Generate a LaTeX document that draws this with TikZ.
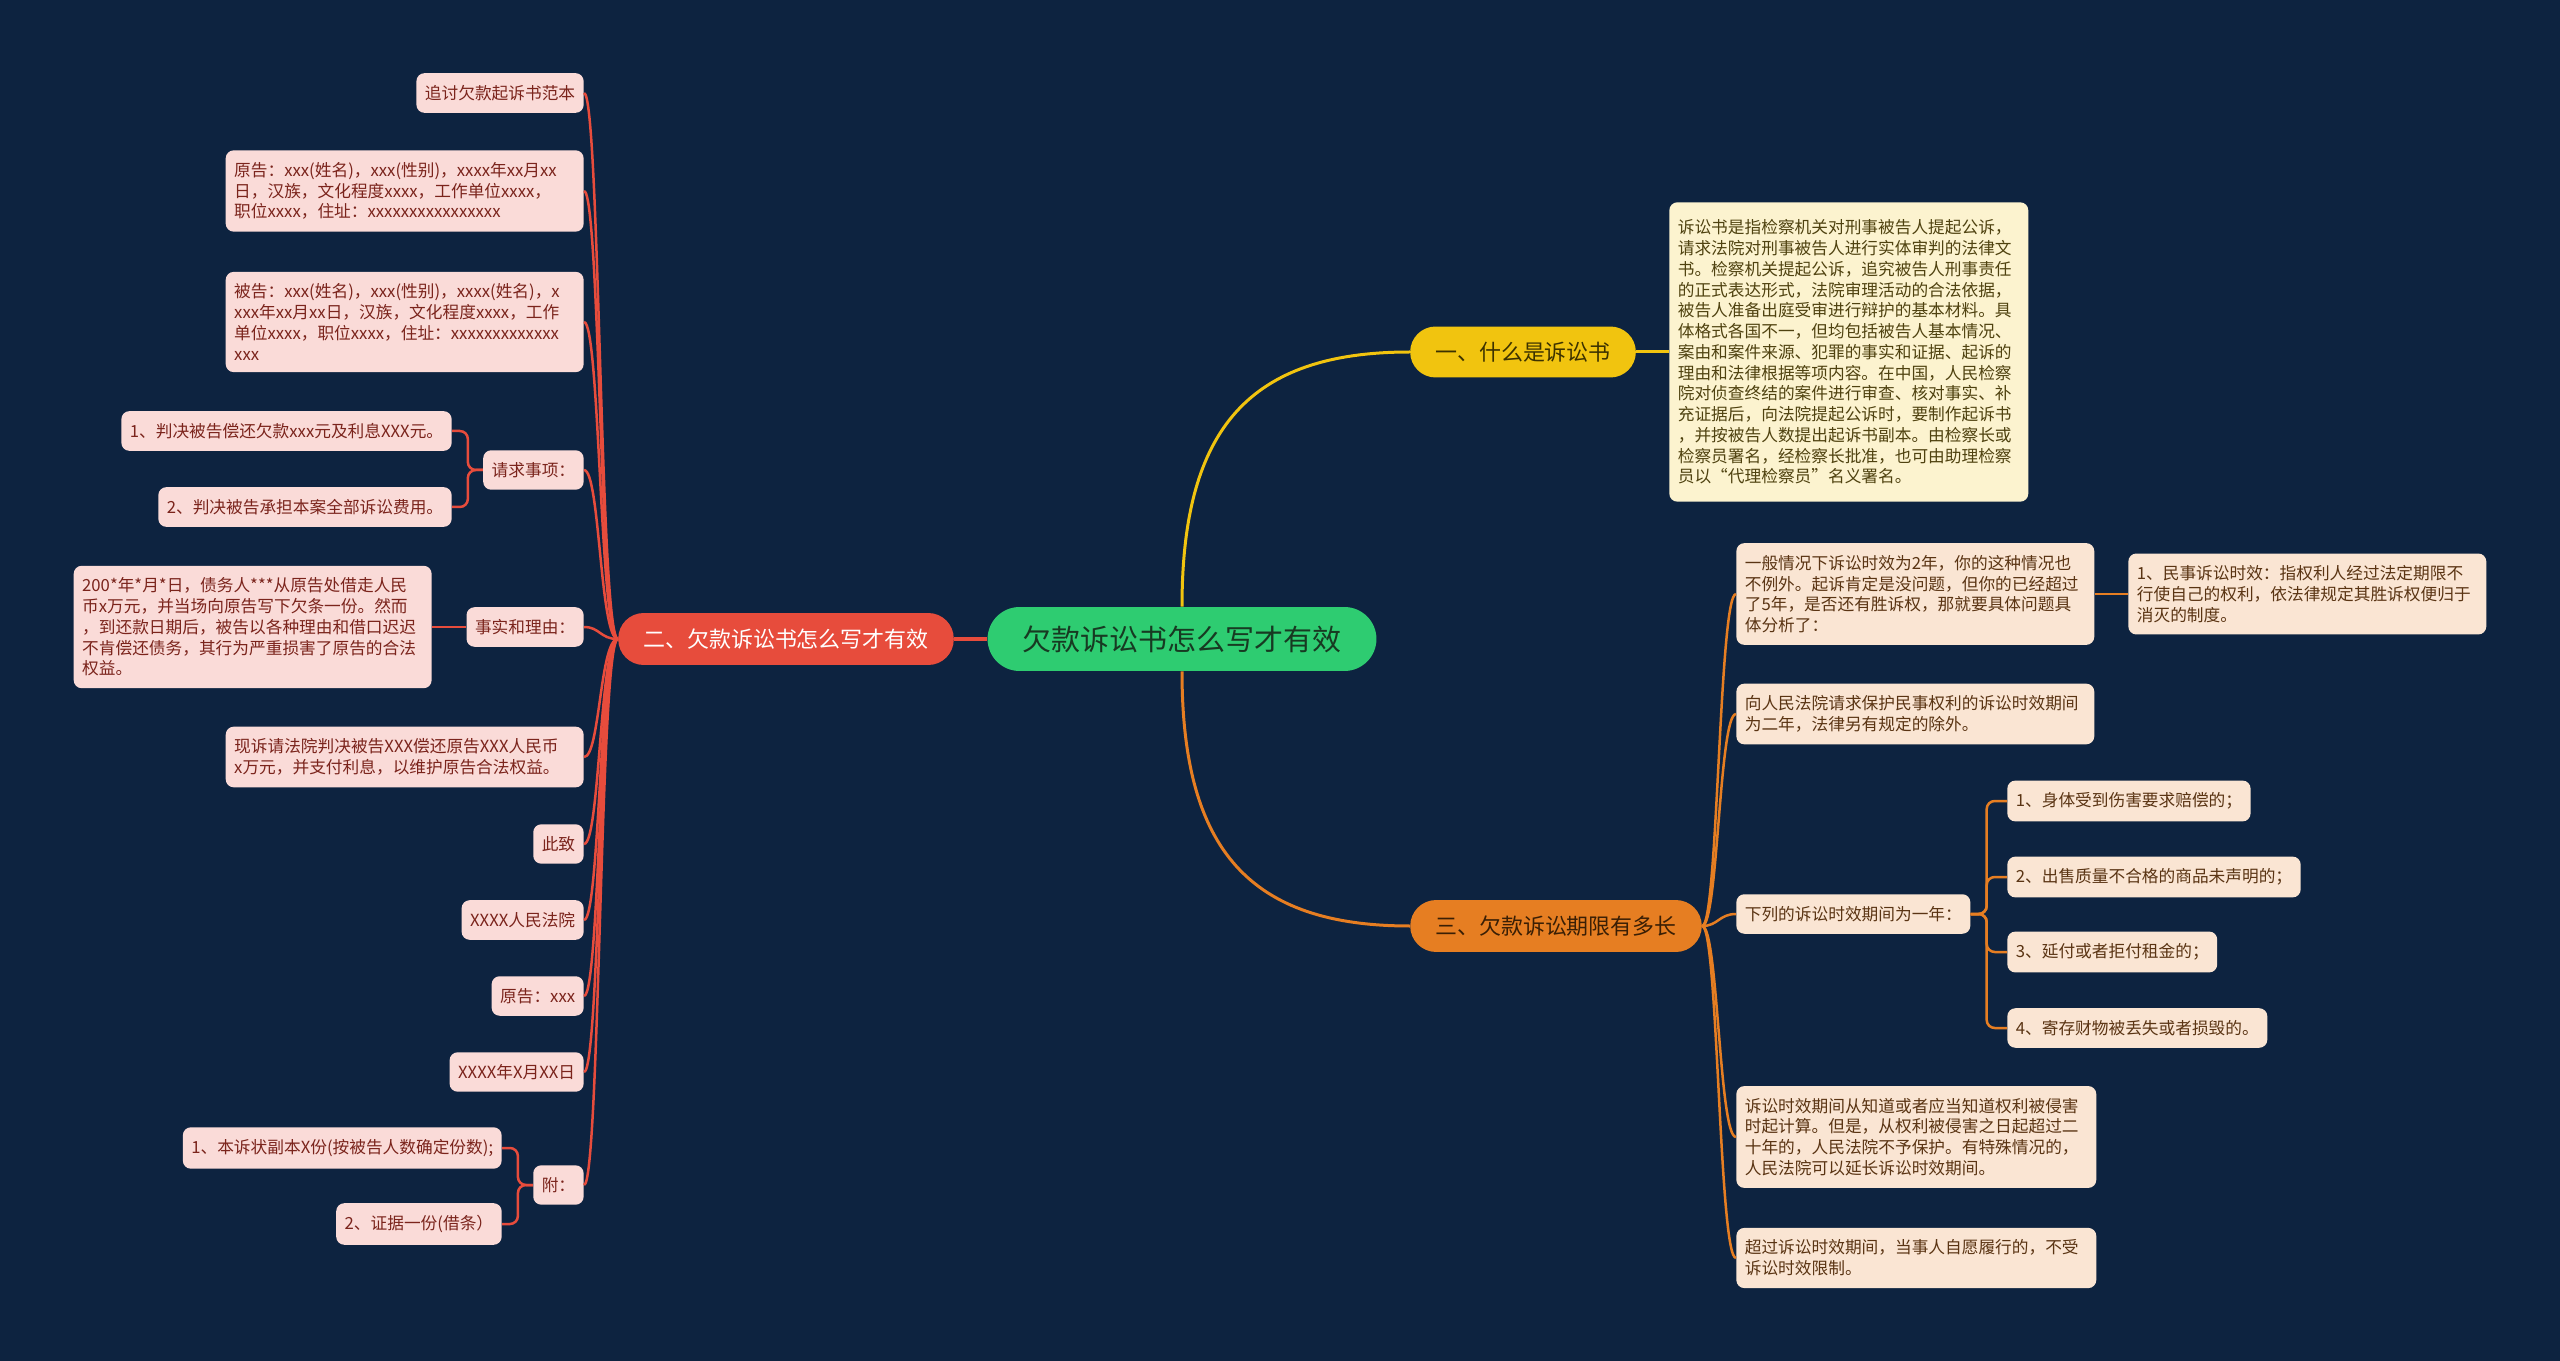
\documentclass[tikz,border=0pt]{standalone}
\usepackage{fontspec}
\newfontfamily\cjk{Noto Sans CJK SC}
\usetikzlibrary{positioning}
\definecolor{bg}{HTML}{0D2340}
\definecolor{gn}{HTML}{2ECC71}
\definecolor{gntext}{HTML}{173A22}
\definecolor{yl}{HTML}{F1C40F}
\definecolor{yltext}{HTML}{3C3200}
\definecolor{rd}{HTML}{E74C3C}
\definecolor{og}{HTML}{E67E22}
\definecolor{ogtext}{HTML}{3A1F05}
\definecolor{ylleaf}{HTML}{FCF3CF}
\definecolor{ylleaftext}{HTML}{4F4210}
\definecolor{rdleaf}{HTML}{FADBD8}
\definecolor{rdleaftext}{HTML}{7B241C}
\definecolor{ogleaf}{HTML}{FAE5D3}
\definecolor{ogleaftext}{HTML}{5A3413}
\tikzstyle{0} = [rectangle, fill = gn, text = gntext, rounded corners = 0.64cm, minimum height = 1.28cm, inner xsep = 0.7cm, font = \cjk\fontsize{16.5}{20}\selectfont]
\tikzstyle{1} = [rectangle, fill = yl, text = yltext, rounded corners = 0.51cm, minimum height = 1.02cm, inner xsep = 0.5cm, font = \cjk\fontsize{12.5}{15}\selectfont]
\tikzstyle{2} = [rectangle, fill = rd, text = white, rounded corners = 0.51cm, minimum height = 1.04cm, inner xsep = 0.5cm, font = \cjk\fontsize{12.5}{15}\selectfont]
\tikzstyle{3} = [rectangle, fill = og, text = ogtext, rounded corners = 0.52cm, minimum height = 1.04cm, inner xsep = 0.5cm, font = \cjk\fontsize{12.5}{15}\selectfont]
\tikzstyle{1x} = [rectangle, fill = ylleaf, text = ylleaftext, rounded corners = 0.16cm, inner xsep = 0.17cm, inner ysep = 0.24cm, align = left, font = \cjk\fontsize{9.5}{11.8}\selectfont]
\tikzstyle{2x} = [rectangle, fill = rdleaf, text = rdleaftext, rounded corners = 0.16cm, inner xsep = 0.17cm, inner ysep = 0.24cm, align = left, font = \cjk\fontsize{9.5}{11.8}\selectfont]
\tikzstyle{3x} = [rectangle, fill = ogleaf, text = ogleaftext, rounded corners = 0.16cm, inner xsep = 0.17cm, inner ysep = 0.24cm, align = left, font = \cjk\fontsize{9.5}{11.8}\selectfont]
\tikzstyle{link1} = [draw = yl, line width = 0.06cm]
\tikzstyle{link2} = [draw = rd, line width = 0.05cm]
\tikzstyle{link3} = [draw = og, line width = 0.05cm]

\begin{document}
\begin{tikzpicture}[x = 0.02cm, y = -0.02cm]
    \fill[bg] (0, 0) rectangle (2560, 1361);

    \node[0] (0) at (1182, 639) {欠款诉讼书怎么写才有效};
    \node[1] (1) at (1523, 352) {一、什么是诉讼书};
    \node[2] (2) at (786, 639) {二、欠款诉讼书怎么写才有效};
    \node[3] (3) at (1556, 926) {三、欠款诉讼期限有多长};

    \node[1x, anchor = west, text width = 6.84cm, inner ysep = 0.35cm] (1a) at (1669, 352) {诉讼书是指检察机关对刑事被告人提起公诉，\\请求法院对刑事被告人进行实体审判的法律文\\书。检察机关提起公诉，追究被告人刑事责任\\的正式表达形式，法院审理活动的合法依据，\\被告人准备出庭受审进行辩护的基本材料。具\\体格式各国不一，但均包括被告人基本情况、\\案由和案件来源、犯罪的事实和证据、起诉的\\理由和法律根据等项内容。在中国，人民检察\\院对侦查终结的案件进行审查、核对事实、补\\充证据后，向法院提起公诉时，要制作起诉书\\，并按被告人数提出起诉书副本。由检察长或\\检察员署名，经检察长批准，也可由助理检察\\员以“代理检察员”名义署名。};

    \node[2x, anchor = east] (2a) at (584, 93) {追讨欠款起诉书范本};
    \node[2x, anchor = east, text width = 6.82cm] (2b) at (584, 191) {原告：xxx(姓名)，xxx(性别)，xxxx年xx月xx\\日，汉族，文化程度xxxx，工作单位xxxx，\\职位xxxx，住址：xxxxxxxxxxxxxxxx};
    \node[2x, anchor = east, text width = 6.82cm] (2c) at (584, 322) {被告：xxx(姓名)，xxx(性别)，xxxx(姓名)，x\\xxx年xx月xx日，汉族，文化程度xxxx，工作\\单位xxxx，职位xxxx，住址：xxxxxxxxxxxxx\\xxx};
    \node[2x, anchor = east] (2d) at (584, 470) {请求事项：};
    \node[2x, anchor = east] (2d1) at (452, 431) {1、判决被告偿还欠款xxx元及利息XXX元。};
    \node[2x, anchor = east] (2d2) at (452, 507) {2、判决被告承担本案全部诉讼费用。};
    \node[2x, anchor = east] (2e) at (584, 627) {事实和理由：};
    \node[2x, anchor = east, text width = 6.82cm] (2e1) at (432, 627) {200*年*月*日，债务人***从原告处借走人民\\币x万元，并当场向原告写下欠条一份。然而\\，到还款日期后，被告以各种理由和借口迟迟\\不肯偿还债务，其行为严重损害了原告的合法\\权益。};
    \node[2x, anchor = east, text width = 6.82cm] (2f) at (584, 757) {现诉请法院判决被告XXX偿还原告XXX人民币\\x万元，并支付利息，以维护原告合法权益。};
    \node[2x, anchor = east] (2g) at (584, 844) {此致};
    \node[2x, anchor = east] (2h) at (584, 920) {XXXX人民法院};
    \node[2x, anchor = east] (2i) at (584, 996) {原告：xxx};
    \node[2x, anchor = east] (2j) at (584, 1072) {XXXX年X月XX日};
    \node[2x, anchor = east] (2k) at (584, 1185) {附：};
    \node[2x, anchor = east] (2k1) at (502, 1148) {1、本诉状副本X份(按被告人数确定份数);};
    \node[2x, anchor = east] (2k2) at (502, 1224) {2、证据一份(借条）};

    \node[3x, anchor = west, text width = 6.82cm] (3a) at (1736, 594) {一般情况下诉讼时效为2年，你的这种情况也\\不例外。起诉肯定是没问题，但你的已经超过\\了5年，是否还有胜诉权，那就要具体问题具\\体分析了：};
    \node[3x, anchor = west, text width = 6.82cm] (3a1) at (2128, 594) {1、民事诉讼时效：指权利人经过法定期限不\\行使自己的权利，依法律规定其胜诉权便归于\\消灭的制度。};
    \node[3x, anchor = west, text width = 6.82cm] (3b) at (1736, 714) {向人民法院请求保护民事权利的诉讼时效期间\\为二年，法律另有规定的除外。};
    \node[3x, anchor = west] (3c) at (1736, 914) {下列的诉讼时效期间为一年：};
    \node[3x, anchor = west] (3c1) at (2007, 801) {1、身体受到伤害要求赔偿的；};
    \node[3x, anchor = west] (3c2) at (2007, 877) {2、出售质量不合格的商品未声明的；};
    \node[3x, anchor = west] (3c3) at (2007, 952) {3、延付或者拒付租金的；};
    \node[3x, anchor = west] (3c4) at (2007, 1028) {4、寄存财物被丢失或者损毁的。};
    \node[3x, anchor = west, text width = 6.86cm] (3d) at (1736, 1137) {诉讼时效期间从知道或者应当知道权利被侵害\\时起计算。但是，从权利被侵害之日起超过二\\十年的，人民法院不予保护。有特殊情况的，\\人民法院可以延长诉讼时效期间。};
    \node[3x, anchor = west, text width = 6.86cm] (3e) at (1736, 1258) {超过诉讼时效期间，当事人自愿履行的，不受\\诉讼时效限制。};

    % root to branches
    \path[link2, line width = 0.07cm] (0) -- (2);
    \path[link1] (0.north) .. controls +(0, -179) and +(-160, 0) .. (1.west);
    \path[link3, line width = 0.06cm] (0.south) .. controls +(0, 179) and +(-160, 0) .. (3.west);

    \path[link1] (1) -- (1a);

    % left side
    \path[link2] (2.west) .. controls +(-18, 0) and +(16, 0) .. (2a.east);
    \path[link2] (2.west) .. controls +(-18, 0) and +(16, 0) .. (2b.east);
    \path[link2] (2.west) .. controls +(-18, 0) and +(16, 0) .. (2c.east);
    \path[link2] (2.west) .. controls +(-18, 0) and +(16, 0) .. (2d.east);
    \path[link2] (2.west) .. controls +(-18, 0) and +(16, 0) .. (2e.east);
    \path[link2] (2.west) .. controls +(-18, 0) and +(16, 0) .. (2f.east);
    \path[link2] (2.west) .. controls +(-18, 0) and +(16, 0) .. (2g.east);
    \path[link2] (2.west) .. controls +(-18, 0) and +(16, 0) .. (2h.east);
    \path[link2] (2.west) .. controls +(-18, 0) and +(16, 0) .. (2i.east);
    \path[link2] (2.west) .. controls +(-18, 0) and +(16, 0) .. (2j.east);
    \path[link2] (2.west) .. controls +(-18, 0) and +(16, 0) .. (2k.east);
    \path[link2, rounded corners = 0.16cm] (2d.west) -- ++(-15, 0) |- (2d1.east);
    \path[link2, rounded corners = 0.16cm] (2d.west) -- ++(-15, 0) |- (2d2.east);
    \path[link2] (2e) -- (2e1);
    \path[link2, rounded corners = 0.16cm] (2k.west) -- ++(-15, 0) |- (2k1.east);
    \path[link2, rounded corners = 0.16cm] (2k.west) -- ++(-15, 0) |- (2k2.east);

    % right side
    \path[link3] (3.east) .. controls +(16, 0) and +(-17, 0) .. (3a.west);
    \path[link3] (3.east) .. controls +(16, 0) and +(-17, 0) .. (3b.west);
    \path[link3] (3.east) .. controls +(16, 0) and +(-17, 0) .. (3c.west);
    \path[link3] (3.east) .. controls +(16, 0) and +(-17, 0) .. (3d.west);
    \path[link3] (3.east) .. controls +(16, 0) and +(-17, 0) .. (3e.west);
    \path[link3] (3a) -- (3a1);
    \path[link3, rounded corners = 0.16cm] (3c.east) -- ++(16, 0) |- (3c1.west);
    \path[link3, rounded corners = 0.16cm] (3c.east) -- ++(16, 0) |- (3c2.west);
    \path[link3, rounded corners = 0.16cm] (3c.east) -- ++(16, 0) |- (3c3.west);
    \path[link3, rounded corners = 0.16cm] (3c.east) -- ++(16, 0) |- (3c4.west);
\end{tikzpicture}
\end{document}
